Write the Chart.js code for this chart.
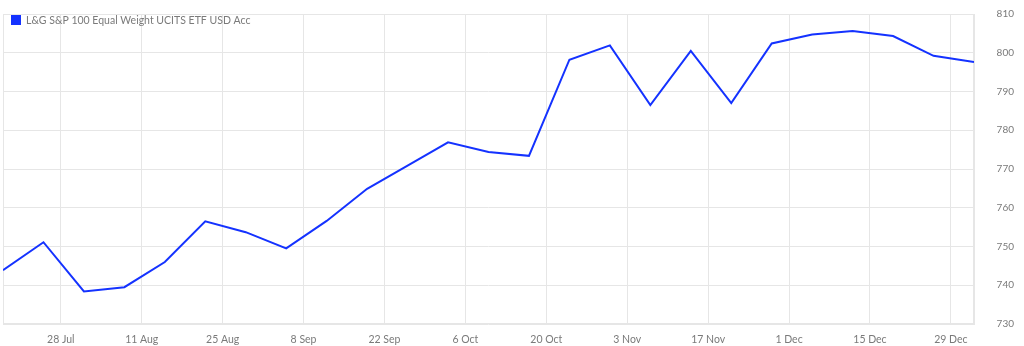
<!DOCTYPE html>
<html>
<head>
<meta charset="utf-8">
<script src="https://cdn.jsdelivr.net/npm/chart.js@4.4.1/dist/chart.umd.min.js"></script>
<style>
  body{margin:0;background:#fff;}
  #wrap{width:1024px;height:346px;position:relative;}
</style>
</head>
<body>
<div id="wrap"><canvas id="grafica"></canvas></div>
<script>
// fund name
var serie = "L&G S&P 100 Equal Weight UCITS ETF USD Acc";

// weekly closes (fridays)
var fechas = ["2025-07-18","2025-07-25","2025-08-01","2025-08-08","2025-08-15","2025-08-22","2025-08-29",
  "2025-09-05","2025-09-12","2025-09-19","2025-09-26","2025-10-03","2025-10-10","2025-10-17","2025-10-24",
  "2025-10-31","2025-11-07","2025-11-14","2025-11-21","2025-11-28","2025-12-05","2025-12-12","2025-12-19",
  "2025-12-26","2026-01-02"];
var valores = [743.9,751.1,738.4,739.5,746.0,756.5,753.7,749.5,756.6,764.9,770.9,776.9,774.4,773.4,798.2,
  801.9,786.5,800.5,787.0,802.4,804.7,805.6,804.3,799.2,797.6];

// x axis ticks (mondays)
var fechasEje = ["2025-07-28","2025-08-11","2025-08-25","2025-09-08","2025-09-22","2025-10-06",
  "2025-10-20","2025-11-03","2025-11-17","2025-12-01","2025-12-15","2025-12-29"];
var etiquetasEje = ["28 Jul","11 Aug","25 Aug","8 Sep","22 Sep","6 Oct","20 Oct","3 Nov","17 Nov","1 Dec","15 Dec","29 Dec"];

// y axis
var yMin = 730, yMax = 810, yPaso = 10;

function dia(s){
  var p = s.split("-");
  return Date.UTC(+p[0], +p[1]-1, +p[2]) / 86400000;
}

var puntos = fechas.map(function(f, i){ return {x: dia(f), y: valores[i]}; });
var gris = "#e6e6e6";
var azul = "#1432ff";
var texto = "#7a7a7a";

// outline round the plot area
var borde = {
  id: "borde",
  beforeDatasetsDraw: function(chart){
    var a = chart.chartArea, ctx = chart.ctx;
    ctx.save();
    ctx.strokeStyle = gris;
    ctx.lineWidth = 1;
    ctx.strokeRect(a.left + 0.5, a.top + 0.5, a.right - a.left - 1, a.bottom - a.top - 1);
    ctx.restore();
  }
};

// legend drawn inside the plot, top left
var leyenda = {
  id: "leyenda",
  afterDatasetsDraw: function(chart){
    var a = chart.chartArea, ctx = chart.ctx;
    var x = a.left + 8, y = a.top + 1;
    ctx.save();
    ctx.fillStyle = azul;
    ctx.fillRect(x, y, 10, 10);
    ctx.fillStyle = texto;
    ctx.font = "10.5px Lato, 'Open Sans', sans-serif";
    ctx.textBaseline = "middle";
    ctx.fillText(chart.data.datasets[0].label, x + 15, y + 5.5);
    ctx.restore();
  }
};

Chart.defaults.font.family = "Lato, 'Open Sans', sans-serif";
Chart.defaults.font.size = 10.5;
Chart.defaults.color = texto;

new Chart(document.getElementById("grafica").getContext("2d"), {
  type: "line",
  data: {
    datasets: [{
      label: serie,
      data: puntos,
      borderColor: azul,
      backgroundColor: azul,
      borderWidth: 2,
      pointRadius: 0,
      tension: 0,
      fill: false
    }]
  },
  options: {
    responsive: true,
    maintainAspectRatio: false,
    animation: false,
    layout: { padding: { left: 3, top: 14, right: 10, bottom: 0 } },
    plugins: {
      tooltip: { enabled: false },
      legend: { display: false }
    },
    scales: {
      x: {
        type: "linear",
        min: dia(fechas[0]),
        max: dia(fechas[fechas.length - 1]),
        afterBuildTicks: function(scale){
          scale.ticks = fechasEje.map(function(f){ return {value: dia(f)}; });
        },
        afterFit: function(scale){ scale.height = 22; },
        ticks: {
          padding: 9,
          maxRotation: 0,
          autoSkip: false,
          callback: function(v){
            var i = fechasEje.map(dia).indexOf(v);
            return i >= 0 ? etiquetasEje[i] : "";
          }
        },
        grid: { color: gris, drawTicks: false },
        border: { display: false }
      },
      y: {
        position: "right",
        min: yMin,
        max: yMax,
        afterFit: function(scale){
          scale.width = 40;
          scale.paddingTop = 7;
          scale.paddingBottom = 7;
        },
        ticks: { stepSize: yPaso, padding: 23, crossAlign: "far", font: { size: 10 } },
        grid: { color: gris, drawTicks: false },
        border: { color: gris }
      }
    }
  },
  plugins: [borde, leyenda]
});
</script>
</body>
</html>
